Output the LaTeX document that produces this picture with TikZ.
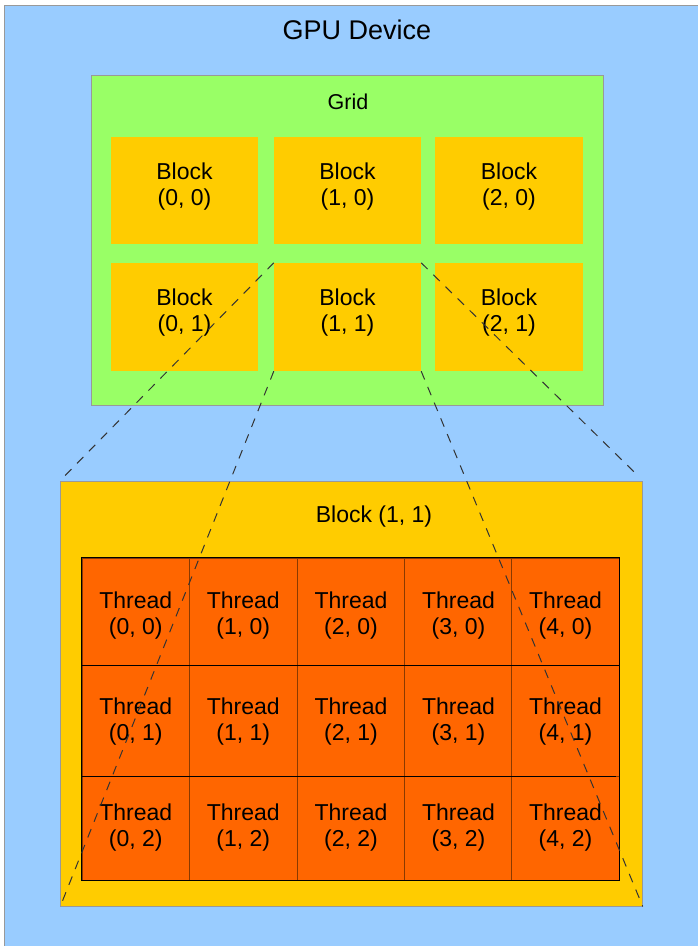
\documentclass[tikz,border=0pt]{standalone}
\usepackage{fontspec}
\setmainfont{Liberation Sans}
\definecolor{devblue}{HTML}{99CCFF}
\definecolor{gridgreen}{HTML}{99FF66}
\definecolor{blockyellow}{HTML}{FFCC00}
\definecolor{threadorange}{HTML}{FF6600}
\definecolor{edgegray}{HTML}{999999}
\definecolor{cellline}{HTML}{8A3A00}
\tikzset{
  blockbox/.style={rectangle, fill=blockyellow, inner sep=0pt},
  blocklbl/.style={align=center, yshift=4pt, font=\fontsize{23}{26}\selectfont},
  threadbox/.style={rectangle, fill=threadorange, draw=cellline, line width=1pt, inner sep=0pt,
    minimum width=107.5pt},
  threadlbl/.style={align=center, yshift=#1, font=\fontsize{23}{26}\selectfont},
  threadlbl/.default=0pt,
  dashline/.style={draw=black!80, line width=1pt, dash pattern=on 9pt off 8pt},
}
\begin{document}
\begin{tikzpicture}[x=1pt, y=-1pt]
\useasboundingbox (0,0) rectangle (698,946);
\draw[fill=devblue, draw=edgegray, line width=1pt] (4.5,5.5) rectangle (710,960);
\node[font=\fontsize{27}{30}\selectfont] (dev) at (357,30){GPU Device};

\node[rectangle, fill=gridgreen, draw=edgegray, line width=1pt, inner sep=0pt,
  minimum width=511.5pt, minimum height=329.5pt] (grid) at (347.25,240.25){};
\node[font=\fontsize{21.5}{24}\selectfont] (gridlbl) at (348,102){Grid};

\node[blockbox, minimum width=147pt, minimum height=107pt,
  label={[blocklbl]center:{Block\\(0, 0)}}] (b00) at (184.5,190.5){};
\node[blockbox, minimum width=147pt, minimum height=107pt,
  label={[blocklbl]center:{Block\\(1, 0)}}] (b10) at (347.5,190.5){};
\node[blockbox, minimum width=148pt, minimum height=107pt,
  label={[blocklbl]center:{Block\\(2, 0)}}] (b20) at (509,190.5){};
\node[blockbox, minimum width=147pt, minimum height=108pt,
  label={[blocklbl]center:{Block\\(0, 1)}}] (b01) at (184.5,317){};
\node[blockbox, minimum width=147pt, minimum height=108pt,
  label={[blocklbl]center:{Block\\(1, 1)}}] (b11) at (347.5,317){};
\node[blockbox, minimum width=148pt, minimum height=108pt,
  label={[blocklbl]center:{Block\\(2, 1)}}] (b21) at (509,317){};

\node[rectangle, fill=blockyellow, draw=edgegray, line width=1pt, inner sep=0pt,
  minimum width=581.5pt, minimum height=425pt] (blk) at (351.5,693.5){};
\node[font=\fontsize{23}{26}\selectfont] (blklbl) at (374,517){Block (1, 1)};

\node[threadbox, minimum height=107pt, label={[threadlbl=-4pt]center:{Thread\\(0, 0)}}] (t00) at (135.75,611.5){};
\node[threadbox, minimum height=107pt, label={[threadlbl=-4pt]center:{Thread\\(1, 0)}}] (t10) at (243.25,611.5){};
\node[threadbox, minimum height=107pt, label={[threadlbl=-4pt]center:{Thread\\(2, 0)}}] (t20) at (351,611.5){};
\node[threadbox, minimum height=107pt, label={[threadlbl=-4pt]center:{Thread\\(3, 0)}}] (t30) at (458.5,611.5){};
\node[threadbox, minimum height=107pt, label={[threadlbl=-4pt]center:{Thread\\(4, 0)}}] (t40) at (565.5,611.5){};
\node[threadbox, minimum height=111pt, label={[threadlbl=-1pt]center:{Thread\\(0, 1)}}] (t01) at (135.75,720.5){};
\node[threadbox, minimum height=111pt, label={[threadlbl=-1pt]center:{Thread\\(1, 1)}}] (t11) at (243.25,720.5){};
\node[threadbox, minimum height=111pt, label={[threadlbl=-1pt]center:{Thread\\(2, 1)}}] (t21) at (351,720.5){};
\node[threadbox, minimum height=111pt, label={[threadlbl=-1pt]center:{Thread\\(3, 1)}}] (t31) at (458.5,720.5){};
\node[threadbox, minimum height=111pt, label={[threadlbl=-1pt]center:{Thread\\(4, 1)}}] (t41) at (565.5,720.5){};
\node[threadbox, minimum height=104pt, label={[threadlbl]center:{Thread\\(0, 2)}}] (t02) at (135.75,828){};
\node[threadbox, minimum height=104pt, label={[threadlbl]center:{Thread\\(1, 2)}}] (t12) at (243.25,828){};
\node[threadbox, minimum height=104pt, label={[threadlbl]center:{Thread\\(2, 2)}}] (t22) at (351,828){};
\node[threadbox, minimum height=104pt, label={[threadlbl]center:{Thread\\(3, 2)}}] (t32) at (458.5,828){};
\node[threadbox, minimum height=104pt, label={[threadlbl]center:{Thread\\(4, 2)}}] (t42) at (565.5,828){};
\draw[line width=1pt] (t00.south west) -- (t40.south east);
\draw[line width=1pt] (t01.south west) -- ([xshift=-4pt]t41.south east);
\draw[line width=1pt] (t00.north west) rectangle (t42.south east);

\draw[dashline] (b11.north west) -- (blk.north west);
\draw[dashline] (b11.north east) -- ([xshift=-4pt,yshift=4pt]blk.north east);
\draw[dashline] (b11.south west) -- (blk.south west);
\draw[dashline] (b11.south east) -- (blk.south east);

\end{tikzpicture}
\end{document}
